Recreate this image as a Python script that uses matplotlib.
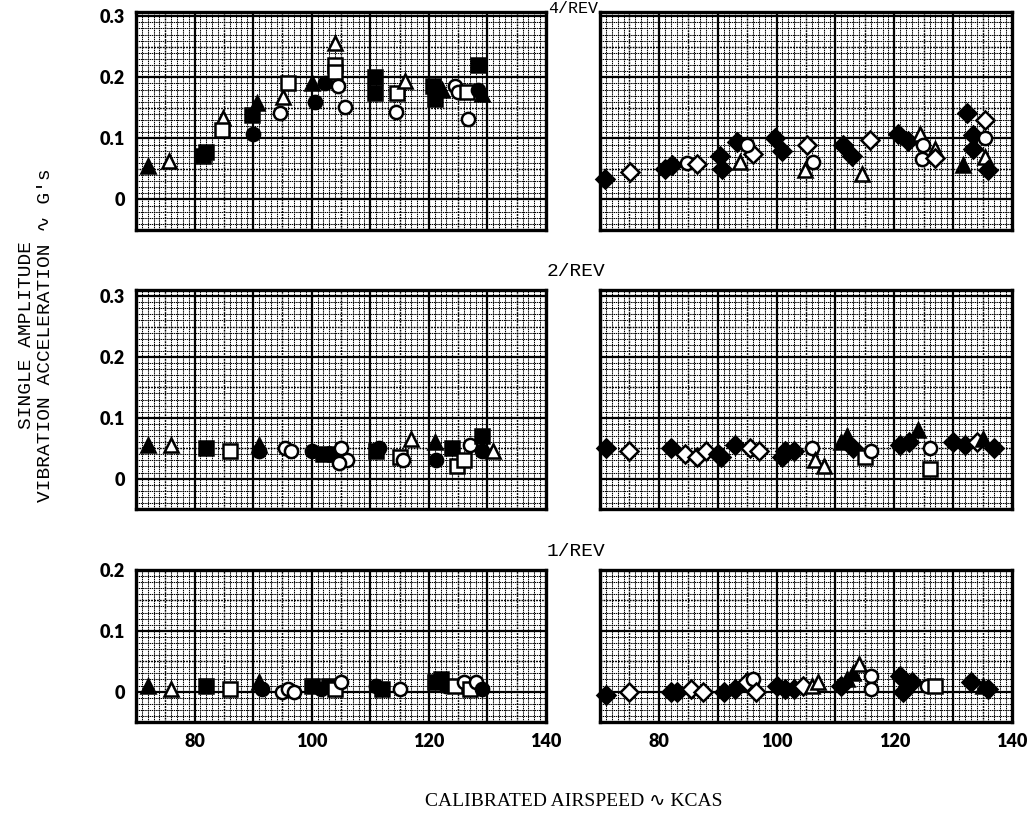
import matplotlib
matplotlib.use("Agg")
import matplotlib.pyplot as plt
import numpy as np

# airspeed (KCAS), vibration (g) and test configuration code for each panel
r4_left_kcas = [72, 75.6, 81.4, 82, 84.9, 84.7, 90.7, 89.8, 90, 95.1, 94.6, 96, 100, 100.5, 102.3,
                104, 104, 104, 104.5, 105.7, 110.8, 110.8, 114.6, 116, 114.4, 120.7, 121, 122.2,
                124.5, 125, 126.5, 126.7, 128.4, 129, 128.4]
r4_left_g = [0.055, 0.063, 0.072, 0.078, 0.133, 0.113, 0.158, 0.138, 0.108, 0.167, 0.142, 0.19,
             0.19, 0.16, 0.19, 0.256, 0.22, 0.208, 0.186, 0.152, 0.2, 0.175, 0.175, 0.194, 0.144,
             0.185, 0.165, 0.18, 0.185, 0.176, 0.176, 0.132, 0.22, 0.172, 0.18]
r4_left_cfg = list("ABCCBDACEBFDAEEBDDFFCCDBFCCAFFDFCAE")

r4_right_kcas = [70.9, 75.1, 81, 82.2, 84.8, 86.5, 90.4, 90.7, 93.3, 93.8, 96, 95, 99.7, 101, 105.2,
                 106.2, 104.8, 111.3, 112.8, 115.9, 114.5, 120.6, 122.3, 124.4, 124.9, 124.7, 126.9,
                 127, 132.4, 135.4, 133.4, 135.4, 133.4, 131.7, 135.4, 136]
r4_right_g = [0.034, 0.045, 0.05, 0.056, 0.06, 0.058, 0.072, 0.05, 0.094, 0.062, 0.075, 0.09, 0.1,
              0.08, 0.09, 0.062, 0.048, 0.09, 0.072, 0.098, 0.042, 0.108, 0.095, 0.108, 0.09, 0.067,
              0.083, 0.068, 0.142, 0.13, 0.105, 0.1, 0.083, 0.057, 0.07, 0.048]
r4_right_cfg = list("GHGGFHGGGBHFGGHFBGGHBGGBFFBHGHGFGABG")

r2_left_kcas = [72, 76, 82, 86, 91, 91, 95.5, 96.5, 100, 102, 104, 105, 106, 104.7, 111, 111.5, 115,
                115.5, 117, 121, 121.2, 124, 124.8, 126, 127, 129, 129, 131]
r2_left_g = [0.055, 0.055, 0.05, 0.045, 0.045, 0.055, 0.05, 0.045, 0.045, 0.04, 0.04, 0.05, 0.03,
             0.025, 0.045, 0.05, 0.035, 0.03, 0.065, 0.06, 0.03, 0.05, 0.02, 0.03, 0.055, 0.07,
             0.045, 0.045]
r2_left_cfg = list("ABCDEAFFECCFFFCEDFBAECDDFCEB")

r2_right_kcas = [71, 75, 82, 84.5, 86.5, 88, 90, 90.5, 93, 95.5, 97, 101, 101.5, 103, 106, 106.5, 108,
                 111, 112, 113, 115, 116, 121, 124, 122.5, 126, 126, 130, 132, 134, 135, 137]
r2_right_g = [0.05, 0.045, 0.05, 0.04, 0.035, 0.045, 0.04, 0.035, 0.055, 0.05, 0.045, 0.035, 0.045,
              0.045, 0.05, 0.03, 0.02, 0.06, 0.07, 0.05, 0.035, 0.045, 0.055, 0.08, 0.06, 0.05,
              0.015, 0.06, 0.055, 0.06, 0.065, 0.05]
r2_right_cfg = list("GHGHHHGGGHHGGGFBBAAGDFGAGFDGGHAG")

r1_left_kcas = [72, 76, 82, 86, 91, 91.5, 95, 96, 97, 100, 101.5, 103, 104, 105, 111, 112, 115,
                121, 122, 123, 124.5, 126, 127, 128, 129]
r1_left_g = [0.01, 0.005, 0.01, 0.005, 0.015, 0.005, 0.0, 0.005, 0.0, 0.01, 0.005, 0.01, 0.005,
             0.015, 0.01, 0.005, 0.005, 0.015, 0.02, 0.01, 0.01, 0.015, 0.005, 0.015, 0.005]
r1_left_cfg = list("ABCDAEFFFCECDFECFCCEDFDFE")

r1_right_kcas = [71, 75, 82, 83, 85.5, 87.5, 91, 93, 95, 96, 96.5, 100, 101.5, 103, 104.5, 106, 107,
                 111, 112, 113, 114, 116, 116, 121, 121.5, 123, 125.5, 127, 133, 135, 136]
r1_right_g = [-0.005, 0.0, 0.0, 0.0, 0.005, 0.0, 0.0, 0.005, 0.015, 0.02, 0.0, 0.01, 0.005, 0.005,
              0.01, 0.01, 0.015, 0.01, 0.02, 0.03, 0.045, 0.025, 0.005, 0.025, 0.0, 0.015, 0.01,
              0.01, 0.015, 0.01, 0.005]
r1_right_cfg = list("GHGGHHGGHFHGGGHBBGAABFFGGGFDGAG")

rev_labels = ["4/REV", "2/REV", "1/REV"]
x_ticks = [80, 100, 120, 140]

# symbol for each configuration: (marker, filled)
symbols = {"A": ("^", True), "B": ("^", False), "C": ("s", True), "D": ("s", False),
           "E": ("o", True), "F": ("o", False), "G": ("D", True), "H": ("D", False)}

W, H = 1029, 819
fig = plt.figure(figsize=(W / 100, H / 100), dpi=100)

tick_font = dict(family="Lato", weight="heavy", size=13)
type_font = ["Liberation Mono", "DejaVu Sans Mono", "DejaVu Sans"]


def px_axes(x0, y0, x1, y1):
    # pixel box (top-left origin) -> axes
    return fig.add_axes([x0 / W, 1 - y1 / H, (x1 - x0) / W, (y1 - y0) / H])


def graph_paper(ax, ytop, left, bottom):
    ax.set_xlim(70, 140)
    ax.set_ylim(-0.05, ytop)
    for v in np.arange(70, 141, 1):
        if v % 10 == 0:
            continue
        lw = 1.0 if v % 5 == 0 else 0.75
        ax.axvline(v, color="black", lw=lw, ls=(0, (1.4, 0.7)), zorder=1)
    for v in np.arange(-0.05, ytop + 1e-6, 0.01):
        if abs(round(v * 100) % 10) == 0:
            continue
        lw = 1.0 if round(v * 100) % 5 == 0 else 0.75
        ax.axhline(v, color="black", lw=lw, ls=(0, (1.4, 0.7)), zorder=1)
    for v in range(80, 140, 10):
        ax.axvline(v, color="black", lw=1.6, zorder=2)
    for v in np.arange(0, ytop + 1e-6, 0.1):
        ax.axhline(v, color="black", lw=1.6, zorder=2)
    for s in ax.spines.values():
        s.set_linewidth(2.4)
    yt = [0, 0.1, 0.2, 0.3] if ytop > 0.25 else [0, 0.1, 0.2]
    ax.set_yticks(yt)
    ax.set_xticks(x_ticks)
    ax.tick_params(length=0, pad=8)
    if left:
        ax.set_yticklabels(["0" if t == 0 else f"{t:.1f}" for t in yt], fontdict=tick_font)
    else:
        ax.set_yticklabels([])
    if bottom:
        ax.set_xticklabels([str(t) for t in x_ticks], fontdict=tick_font)
    else:
        ax.set_xticklabels([])


def scatter(ax, kcas, g, cfg):
    for k, v, c in zip(kcas, g, cfg):
        m, filled = symbols[c]
        ms = 9 if m == "D" else 9.5
        ax.plot(k, v, marker=m, ms=ms, mfc="black" if filled else "white",
                mec="black", mew=1.8, ls="none", zorder=5, clip_on=False)


rows = [
    (12, 230, 0.307, r4_left_kcas, r4_left_g, r4_left_cfg, r4_right_kcas, r4_right_g, r4_right_cfg),
    (290, 509, 0.31, r2_left_kcas, r2_left_g, r2_left_cfg, r2_right_kcas, r2_right_g, r2_right_cfg),
    (570, 722, 0.2, r1_left_kcas, r1_left_g, r1_left_cfg, r1_right_kcas, r1_right_g, r1_right_cfg),
]

for i, (y0, y1, ytop, lk, lg, lc, rk, rg, rc) in enumerate(rows):
    last = i == len(rows) - 1
    axl = px_axes(136, y0, 546, y1)
    graph_paper(axl, ytop, True, last)
    scatter(axl, lk, lg, lc)
    axr = px_axes(600, y0, 1012, y1)
    graph_paper(axr, ytop, False, last)
    scatter(axr, rk, rg, rc)
    if i == 0:
        # the top label sits right at the upper edge of the sheet
        fig.text(573 / W, 1 - 1 / H, rev_labels[i], family=type_font, size=12,
                 ha="center", va="top")
    else:
        fig.text(547 / W, 1 - (y0 - 18) / H, rev_labels[i], family=type_font, size=14,
                 ha="left", va="center")

fig.text(36 / W, 1 - 335 / H, "SINGLE AMPLITUDE\nVIBRATION ACCELERATION \u223f G's",
         family=type_font, size=14, rotation=90, ha="center", va="center",
         multialignment="center", linespacing=1.1)
fig.text(574 / W, 1 - 802 / H, "CALIBRATED AIRSPEED \u223f KCAS",
         family=["Liberation Serif", "DejaVu Serif", "DejaVu Sans"], size=14,
         ha="center", va="center")

fig.savefig("out.png", dpi=100)
